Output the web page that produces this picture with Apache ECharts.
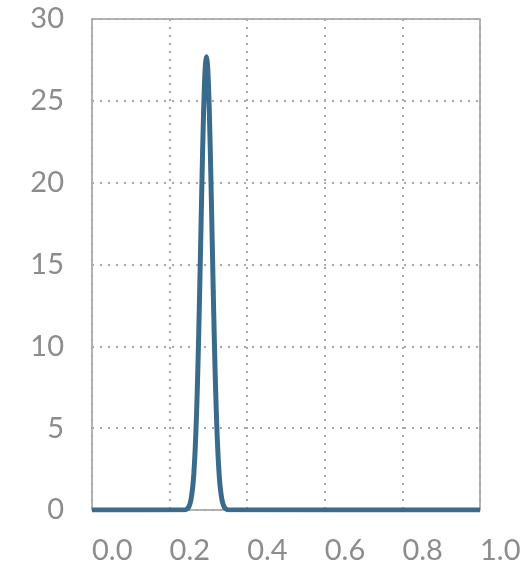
<!DOCTYPE html>
<html>
<head>
<meta charset="utf-8">
<script src="https://cdn.jsdelivr.net/npm/echarts@6/dist/echarts.min.js"></script>
<style>
  html, body { margin: 0; padding: 0; background: #fff; }
  #main { width: 532px; height: 568px; }
</style>
</head>
<body>
<div id="main"></div>
<script>
// density curve (peak near x = 0.295)
const xValues = [0, 0.24, 0.245, 0.25, 0.255, 0.26, 0.2625, 0.265, 0.2675, 0.27,
  0.2725, 0.275, 0.2775, 0.28, 0.2825, 0.285, 0.2875, 0.29, 0.2925, 0.295,
  0.2975, 0.3, 0.3025, 0.305, 0.3075, 0.31, 0.3125, 0.315, 0.3175, 0.32,
  0.3225, 0.325, 0.3275, 0.33, 0.335, 0.34, 0.345, 0.35, 1];
const yValues = [0, 0.02, 0.07, 0.22, 0.62, 1.5, 2.25, 3.26, 4.59, 6.27,
  8.31, 10.7, 13.37, 16.22, 19.1, 21.84, 24.23, 26.1, 27.29, 27.7,
  27.29, 26.1, 24.23, 21.84, 19.1, 16.22, 13.37, 10.7, 8.31, 6.27,
  4.59, 3.26, 2.25, 1.5, 0.62, 0.22, 0.07, 0.02, 0];
const xTicks = [0, 0.2, 0.4, 0.6, 0.8, 1.0];
const yTicks = [0, 5, 10, 15, 20, 25, 30];

const points = xValues.map((x, i) => [x, yValues[i]]);

const labelFont = {
  fontFamily: "Lato",
  fontSize: 29,
  color: "#8c8c8c",
};
const dotted = {
  color: "#a8a8a8",
  width: 2,
  type: [2, 6],
};

const myChart = echarts.init(document.getElementById("main"));

myChart.setOption({
  animation: false,
  grid: {
    show: true,
    left: 92,
    right: 52,
    top: 19,
    bottom: 58,
    borderColor: "#9a9a9a",
    borderWidth: 1.5,
  },
  xAxis: {
    type: "value",
    min: xTicks[0],
    max: xTicks[xTicks.length - 1],
    interval: 0.2,
    axisLine: { show: false },
    axisTick: { show: false },
    axisLabel: {
      ...labelFont,
      align: "left",
      margin: 26,
      formatter: (v) => v.toFixed(1),
    },
    splitLine: { show: true, lineStyle: dotted },
  },
  yAxis: {
    type: "value",
    min: yTicks[0],
    max: yTicks[yTicks.length - 1],
    interval: 5,
    axisLine: { show: false },
    axisTick: { show: false },
    axisLabel: { ...labelFont, margin: 28 },
    splitLine: { show: true, lineStyle: dotted },
  },
  series: [
    {
      type: "line",
      data: points,
      showSymbol: false,
      smooth: 0.2,
      lineStyle: { color: "#3a6b8c", width: 5 },
    },
  ],
});
</script>
</body>
</html>
